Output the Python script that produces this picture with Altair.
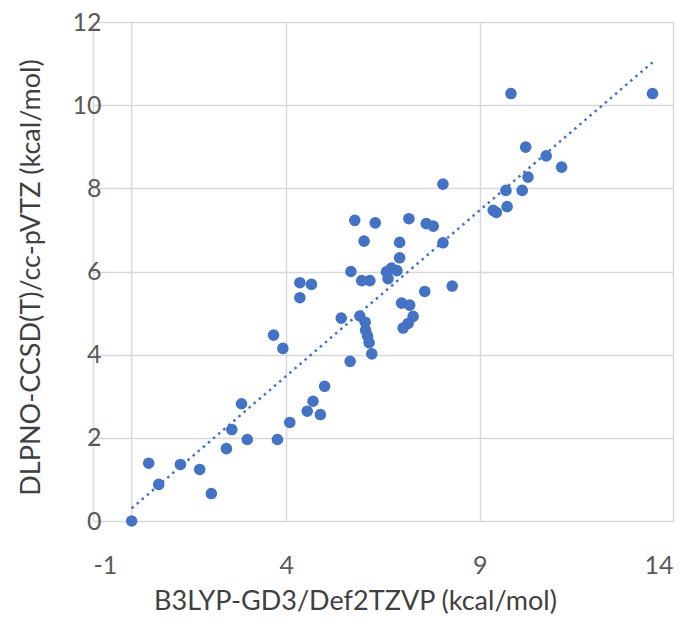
import altair as alt
import pandas as pd

# B3LYP-GD3/Def2TZVP values (kcal/mol)
x_vals = [0.00, 0.44, 0.70, 1.26, 1.76, 2.06, 2.45, 2.59, 2.84, 2.99,
          3.67, 3.77, 3.91, 4.09, 4.35, 4.35, 4.65, 4.54, 4.69, 4.88,
          4.99, 5.42, 5.65, 5.67, 5.77, 5.90, 5.95, 6.01, 6.04, 6.05,
          6.10, 6.14, 6.21, 6.16, 6.30, 6.59, 6.63, 6.72, 6.86, 6.93,
          6.93, 6.98, 7.02, 7.15, 7.19, 7.28, 7.17, 7.58, 7.62, 7.80,
          8.05, 8.05, 8.29, 9.35, 9.43, 9.68, 9.71, 9.81, 10.10, 10.19,
          10.25, 10.72, 11.12, 13.47]
# DLPNO-CCSD(T)/cc-pVTZ values (kcal/mol)
y_vals = [0.00, 1.39, 0.88, 1.36, 1.24, 0.66, 1.74, 2.20, 2.82, 1.96,
          4.47, 1.96, 4.15, 2.37, 5.73, 5.37, 5.69, 2.64, 2.88, 2.56,
          3.24, 4.88, 3.84, 6.00, 7.23, 4.93, 5.78, 6.73, 4.78, 4.59,
          4.45, 4.29, 4.02, 5.78, 7.17, 5.99, 5.83, 6.08, 6.02, 6.33,
          6.70, 5.24, 4.64, 4.75, 5.19, 4.92, 7.27, 5.52, 7.15, 7.09,
          8.10, 6.69, 5.65, 7.47, 7.42, 7.95, 7.56, 10.28, 7.95, 8.99,
          8.27, 8.78, 8.51, 10.28]

x_ticks = [-1, 4, 9, 14]
y_ticks = [0, 2, 4, 6, 8, 10, 12]
axis_zero = [0]

df = pd.DataFrame({"x": x_vals, "y": y_vals})
xscale = alt.Scale(domain=[-1, 14], nice=False, zero=False)
yscale = alt.Scale(domain=[0, 12], nice=False, zero=False)

FONT = "Lato"
GRID = "#d9d9d9"
BLUE = "#4472C4"

x_axis = alt.Axis(
    values=x_ticks, grid=True, gridColor=GRID, gridWidth=1.5, domain=False,
    ticks=False, tickSize=0, labelPadding=32, labelFont=FONT, labelFontSize=25,
    labelColor="#595959", labelExpr="'' + datum.value",
    title="B3LYP-GD3/Def2TZVP (kcal/mol)",
    titleFont=FONT, titleFontSize=27, titleFontWeight="normal", titleColor="#404040",
    titleX=262, titleY=88, titleAlign="center", titleBaseline="alphabetic",
)
y_axis = alt.Axis(
    values=y_ticks, grid=True, gridColor=GRID, gridWidth=1.5, domain=False,
    ticks=False, tickSize=0, labelPadding=-8, labelFont=FONT, labelFontSize=25,
    labelColor="#595959", labelExpr="'' + datum.value",
    title="DLPNO-CCSD(T)/cc-pVTZ (kcal/mol)",
    titleFont=FONT, titleFontSize=27, titleFontWeight="normal", titleColor="#404040",
    titleX=-62, titleY=255, titleAlign="center", titleBaseline="middle", titleAngle=270,
)

points = alt.Chart(df).mark_circle(size=135, color=BLUE, opacity=1).encode(
    x=alt.X("x:Q", scale=xscale, axis=x_axis),
    y=alt.Y("y:Q", scale=yscale, axis=y_axis),
)

zero_line = alt.Chart(pd.DataFrame({"x": axis_zero})).mark_rule(
    color=GRID, strokeWidth=1.5
).encode(x=alt.X("x:Q", scale=xscale, axis=x_axis))

trend = alt.Chart(df).transform_regression("x", "y").mark_line(
    color=BLUE, strokeWidth=2.5, strokeDash=[2.5, 4.2]
).encode(
    x=alt.X("x:Q", scale=xscale, axis=x_axis),
    y=alt.Y("y:Q", scale=yscale, axis=y_axis),
)

chart = alt.layer(zero_line, points, trend).properties(
    width=580, height=499,
    autosize=alt.AutoSizeParams(type="none"),
    padding={"left": 85, "top": 14, "right": 14, "bottom": 95},
).configure_view(stroke="transparent")

chart.save("out.html", embed_options={"renderer": "svg", "actions": False})
